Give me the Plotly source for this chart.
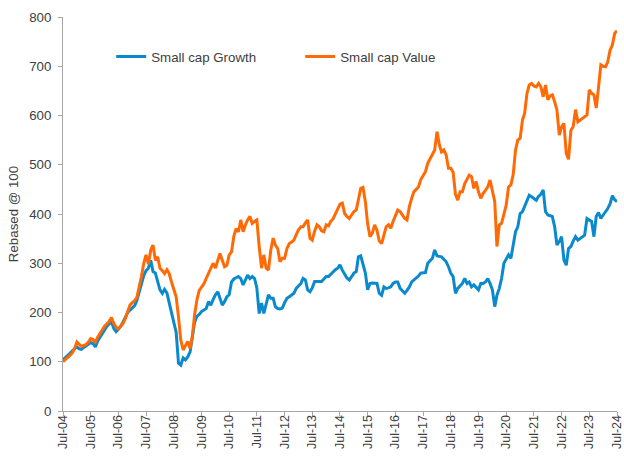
import plotly.graph_objects as go

growth = [104, 108, 112, 117, 122, 127, 130, 126, 125, 129, 132, 135,
          139, 137, 130, 142, 150, 158, 166, 172, 177, 181, 168, 161,
          166, 172, 181, 190, 200, 205, 210, 214, 224, 242, 262, 275,
          285, 290, 306, 283, 280, 262, 246, 239, 247, 240, 218, 198,
          180, 160, 97, 93, 108, 104, 110, 120, 150, 180, 192, 196,
          202, 205, 208, 222, 215, 226, 236, 242, 230, 215, 222, 232,
          236, 262, 268, 271, 273, 269, 256, 266, 276, 269, 273, 269,
          250, 198, 219, 198, 215, 236, 229, 229, 212, 208, 207, 209,
          220, 229, 232, 236, 239, 249, 254, 259, 269, 266, 246, 242,
          250, 263, 263, 263, 263, 268, 273, 273, 278, 283, 287, 290,
          297, 286, 278, 270, 266, 273, 280, 283, 313, 315, 300, 280,
          246, 259, 260, 259, 259, 239, 235, 252, 249, 250, 252, 259,
          262, 262, 249, 244, 239, 245, 252, 262, 266, 269, 274, 280,
          281, 281, 300, 305, 310, 327, 315, 314, 313, 308, 303, 293,
          280, 273, 239, 249, 254, 259, 269, 259, 262, 252, 256, 250,
          246, 259, 259, 262, 269, 259, 246, 212, 235, 249, 269, 300,
          310, 317, 310, 340, 364, 374, 401, 405, 415, 425, 438, 435,
          432, 428, 436, 440, 449, 405, 398, 397, 395, 374, 337, 344,
          354, 307, 296, 330, 334, 345, 354, 347, 350, 354, 357, 391,
          388, 385, 354, 395, 403, 391, 398, 405, 411, 421, 437, 429,
          425]

value = [100, 104, 108, 113, 118, 127, 140, 134, 131, 133, 135, 140,
         147, 145, 140, 150, 157, 166, 172, 177, 182, 190, 178, 170,
         167, 172, 178, 188, 200, 215, 220, 224, 230, 250, 273, 300,
         317, 298, 327, 337, 306, 313, 290, 285, 279, 287, 279, 262,
         245, 232, 191, 144, 124, 134, 141, 127, 150, 195, 225, 245,
         252, 258, 269, 280, 292, 300, 290, 305, 320, 306, 293, 296,
         317, 323, 355, 370, 364, 388, 364, 378, 388, 395, 381, 385,
         388, 334, 290, 317, 290, 286, 327, 351, 337, 330, 303, 310,
         310, 330, 340, 343, 347, 358, 368, 374, 374, 382, 388, 351,
         347, 365, 378, 374, 366, 364, 378, 376, 385, 390, 400, 408,
         420, 422, 401, 395, 391, 398, 405, 408, 430, 452, 454, 425,
         380, 354, 361, 378, 367, 345, 340, 358, 374, 378, 371, 385,
         395, 408, 405, 398, 391, 388, 415, 432, 445, 450, 455, 470,
         478, 486, 503, 512, 518, 530, 567, 540, 526, 530, 520, 493,
         493, 485, 440, 428, 445, 445, 462, 472, 479, 476, 452, 466,
         445, 432, 442, 448, 455, 469, 449, 425, 334, 378, 381, 400,
         418, 455, 459, 480, 530, 550, 554, 591, 604, 645, 662, 665,
         660, 658, 665, 658, 638, 662, 632, 640, 642, 628, 611, 560,
         577, 584, 523, 511, 570, 577, 612, 587, 590, 594, 598, 601,
         652, 645, 642, 615, 658, 703, 700, 699, 709, 733, 743, 767,
         772]

# monthly dates from Jul-2004 to Jul-2024
dates = ["%04d-%02d-01" % (2004 + (6 + i) // 12, (6 + i) % 12 + 1) for i in range(len(growth))]
tick_years = list(range(2004, 2025))
tick_vals = ["%04d-07-01" % y for y in tick_years]
tick_labels = ["Jul-%02d" % (y % 100) for y in tick_years]
y_ticks = [0, 100, 200, 300, 400, 500, 600, 700, 800]

font_family = "Liberation Sans, Arial, sans-serif"
text_color = "#404040"
axis_color = "#A6A6A6"

fig = go.Figure()
fig.add_trace(go.Scatter(x=dates, y=growth, mode="lines", name="Small cap Growth",
                         line=dict(color="#0A8ACD", width=3)))
fig.add_trace(go.Scatter(x=dates, y=value, mode="lines", name="Small cap Value",
                         line=dict(color="#FF6A06", width=3)))

fig.update_layout(
    width=624, height=459,
    margin=dict(l=63, r=7, t=17, b=48),
    paper_bgcolor="white", plot_bgcolor="white",
    font=dict(family=font_family, size=13.3, color=text_color),
    showlegend=True,
    legend=dict(orientation="h", x=0.087, xanchor="left", y=0.938, yanchor="top",
                bgcolor="rgba(0,0,0,0)", font=dict(size=13.3, color=text_color),
                entrywidth=144, entrywidthmode="pixels", itemwidth=30),
    xaxis=dict(type="date", range=[tick_vals[0], tick_vals[-1]], automargin=False,
               tickmode="array", tickvals=tick_vals, ticktext=tick_labels,
               tickangle=-90, ticks="outside", ticklen=4, tickcolor=axis_color,
               ticklabelstandoff=-6, ticklabeloverflow="allow",
               showline=True, linecolor=axis_color, linewidth=1,
               showgrid=False, zeroline=False,
               tickfont=dict(size=12.5, color=text_color)),
    yaxis=dict(range=[0, 800], tickmode="array", tickvals=y_ticks, automargin=False,
               ticks="outside", ticklen=4, tickcolor=axis_color,
               ticklabelstandoff=4,
               showline=True, linecolor=axis_color, linewidth=1,
               showgrid=False, zeroline=False,
               title=dict(text="Rebased @ 100", font=dict(size=13.3, color=text_color), standoff=7),
               tickfont=dict(size=13.3, color=text_color)),
)

# remove the default page margin so the 624x459 figure fills the window exactly
fig.write_html("out.html", config={"displayModeBar": False},
               post_script="document.body.style.margin='0';document.body.style.overflow='hidden';")
